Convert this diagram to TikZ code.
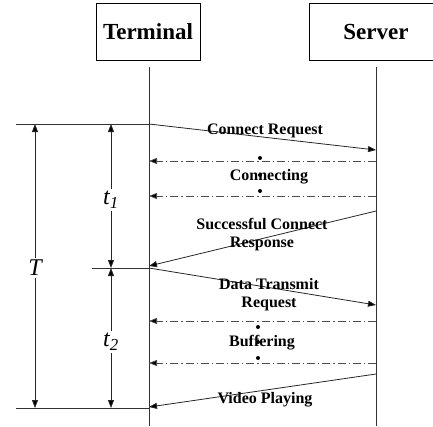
\documentclass[tikz,border=0pt]{standalone}
\usepackage{fontspec}
\setmainfont{Liberation Serif}
\usetikzlibrary{arrows.meta}
\tikzset{
  actor/.style={draw, line width=0.8pt, font=\bfseries\fontsize{23}{25}\selectfont, inner sep=0pt},
  life/.style={line width=0.8pt, draw=black!80},
  tip/.tip={Triangle[length=8pt,width=6pt,fill=black]},
  msg/.style={line width=0.8pt, draw=black!85, -tip},
  wait/.style={line width=0.7pt, draw=black!70, dash pattern=on 8pt off 3pt on 1.2pt off 3pt, -tip},
  lbl/.style={font=\bfseries\fontsize{16}{18}\selectfont, inner sep=0pt, align=center},
  span/.style={line width=0.8pt, draw=black!85, tip-tip},
  tickline/.style={line width=0.8pt, draw=black!80},
  dur/.style={fill=white, inner sep=2pt, font=\itshape\fontsize{24}{26}\selectfont},
  ell/.style={circle, fill=black, inner sep=0pt, minimum size=4pt}
}
\begin{document}
\begin{tikzpicture}[x=1pt,y=1pt]
\useasboundingbox (0,0) rectangle (433,-426);
\clip (0,0) rectangle (433,-426);

% participants
\node[actor, minimum width=104pt, minimum height=57pt] (term) at (148,-31.5) {Terminal};
\node[actor, minimum width=134pt, minimum height=57pt] (serv) at (376,-31.5) {Server};

% lifelines
\coordinate (tt) at (149,-67);  \coordinate (tb) at (149,-426);
\coordinate (st) at (376,-67);  \coordinate (sb) at (376,-426);
\draw[life] (tt) -- (tb);
\draw[life] (st) -- (sb);

% message end points
\coordinate (t1) at (149,-124); \coordinate (s1) at (376,-150);
\coordinate (s2) at (376,-161); \coordinate (t2) at (149,-161);
\coordinate (s3) at (376,-196); \coordinate (t3) at (149,-196);
\coordinate (s4) at (376,-211); \coordinate (t4) at (149,-266);
\coordinate (t5) at (149,-268); \coordinate (s5) at (376,-305);
\coordinate (s6) at (376,-321); \coordinate (t6) at (149,-321);
\coordinate (s7) at (376,-363); \coordinate (t7) at (149,-363);
\coordinate (s8) at (376,-374); \coordinate (t8) at (149,-407);

\draw[msg] (t1) -- (s1);
\draw[wait] (s2) -- (t2);
\draw[wait] (s3) -- (t3);
\draw[msg] (s4) -- (t4);
\draw[msg] (t5) -- (s5);
\draw[wait] (s6) -- (t6);
\draw[wait] (s7) -- (t7);
\draw[msg] (s8) -- (t8);

% message labels
\node[lbl] (l1) at (265,-131) {Connect Request};
\node[lbl] (l2) at (269,-177) {Connecting};
\node[lbl] (l3) at (262,-235) {Successful Connect\\Response};
\node[lbl] (l4) at (269,-295) {Data Transmit\\Request};
\node[lbl] (l5) at (262,-343) {Buffering};
\node[lbl] (l6) at (265,-400) {Video Playing};

% repeated-step ellipses
\node[ell] (e1) at (260,-158) {};
\node[ell] (e2) at (260,-175) {};
\node[ell] (e3) at (260,-191) {};
\node[ell] (e4) at (258,-327) {};
\node[ell] (e5) at (258,-342) {};
\node[ell] (e6) at (258,-358) {};

% time marks
\coordinate (ha) at (16,-124);
\coordinate (hb) at (92,-268);
\coordinate (hc) at (16,-408);
\coordinate (hc2) at (149,-408);
\draw[tickline] (ha) -- (t1);
\draw[tickline] (hb) -- (t5);
\draw[tickline] (hc) -- (hc2);

% durations
\coordinate (Ta) at (35,-124);  \coordinate (Tb) at (35,-408);
\coordinate (ua) at (111,-124); \coordinate (ub) at (111,-268); \coordinate (uc) at (111,-408);
\draw[span] (Ta) -- (Tb);
\draw[span] (ua) -- (ub);
\draw[span] (ub) -- (uc);
\node[dur] (T) at (35,-268) {T};
\node[dur] (d1) at (111,-200) {t\textsubscript{\textit{1}}};
\node[dur] (d2) at (111,-342) {t\textsubscript{\textit{2}}};
\end{tikzpicture}
\end{document}
